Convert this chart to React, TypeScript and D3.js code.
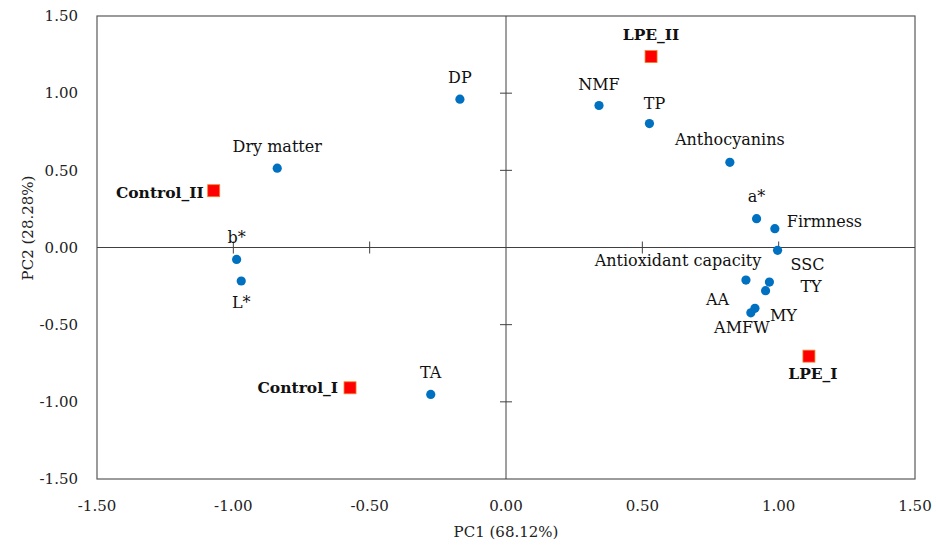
import React from "react";
import * as d3 from "d3";

const varNames = ["DP", "NMF", "TP", "Anthocyanins", "a*", "Firmness", "SSC", "Antioxidant capacity", "TY", "AA", "MY", "AMFW", "Dry matter", "b*", "L*", "TA"];
const varPC1 = [-0.169, 0.341, 0.526, 0.821, 0.919, 0.986, 0.996, 0.88, 0.966, 0.952, 0.913, 0.898, -0.839, -0.988, -0.971, -0.276];
const varPC2 = [0.961, 0.92, 0.803, 0.552, 0.187, 0.122, -0.018, -0.211, -0.224, -0.28, -0.394, -0.423, 0.514, -0.077, -0.217, -0.952];

const sampleNames = ["LPE_II", "Control_II", "Control_I", "LPE_I"];
const samplePC1 = [0.532, -1.072, -0.572, 1.111];
const samplePC2 = [1.237, 0.368, -0.909, -0.704];

const tickValues = [-1.5, -1.0, -0.5, 0, 0.5, 1.0, 1.5];
const tickLabels = ["-1.50", "-1.00", "-0.50", "0.00", "0.50", "1.00", "1.50"];

const xTitle = "PC1 (68.12%)";
const yTitle = "PC2 (28.28%)";

// label placement offsets (px) relative to marker: [dx, dy, anchor]
const varLabelPos: Record<string, [number, number, string]> = {
  "DP": [0, -16, "middle"],
  "NMF": [0, -16, "middle"],
  "TP": [5, -15, "middle"],
  "Anthocyanins": [0, -17, "middle"],
  "a*": [0, -17, "middle"],
  "Firmness": [12, -2, "start"],
  "SSC": [13, 20, "start"],
  "Antioxidant capacity": [-68, -14, "middle"],
  "TY": [31, 10, "start"],
  "AA": [-48, 14, "middle"],
  "MY": [15, 13, "start"],
  "AMFW": [-9, 20, "middle"],
  "Dry matter": [0, -16, "middle"],
  "b*": [0, -16, "middle"],
  "L*": [0, 27, "middle"],
  "TA": [0, -16, "middle"],
};
const sampleLabelPos: Record<string, [number, number, string]> = {
  "LPE_II": [0, -17, "middle"],
  "Control_II": [-10, 7, "end"],
  "Control_I": [-12, 5, "end"],
  "LPE_I": [4, 23, "middle"],
};

const W = 936;
const H = 546;
const FONT = "'DejaVu Serif', serif";

export default function App() {
  const x = d3.scaleLinear().domain([-1.5, 1.5]).range([97, 915]);
  const y = d3.scaleLinear().domain([-1.5, 1.5]).range([479, 16]);
  const x0 = x(0);
  const y0 = y(0);
  const inner = tickValues.filter((v) => Math.abs(v) > 0 && Math.abs(v) < 1.5);

  return (
    <div style={{ position: "absolute", left: 0, top: 0 }}>
      <svg width={W} height={H} style={{ display: "block", background: "#fff" }} fontFamily={FONT}>
        <rect x={x(-1.5)} y={y(1.5)} width={x(1.5) - x(-1.5)} height={y(-1.5) - y(1.5)} fill="none" stroke="#595959" strokeWidth={1.2} />
        <line x1={x(-1.5)} x2={x(1.5)} y1={y0} y2={y0} stroke="#404040" strokeWidth={1} />
        <line x1={x0} x2={x0} y1={y(1.5)} y2={y(-1.5)} stroke="#404040" strokeWidth={1} />
        {inner.map((v) => (
          <line key={"tx" + v} x1={x(v)} x2={x(v)} y1={y0 - 6} y2={y0 + 6} stroke="#404040" strokeWidth={1} />
        ))}
        {inner.map((v) => (
          <line key={"ty" + v} x1={x0 - 6} x2={x0 + 6} y1={y(v)} y2={y(v)} stroke="#404040" strokeWidth={1} />
        ))}
        {tickValues.map((v, i) => (
          <text key={"lx" + v} x={x(v)} y={511} textAnchor="middle" fontSize={15} fill="#222">
            {tickLabels[i]}
          </text>
        ))}
        {tickValues.map((v, i) => (
          <text key={"ly" + v} x={78} y={y(v)} dy="0.35em" textAnchor="end" fontSize={15} fill="#222">
            {tickLabels[i]}
          </text>
        ))}
        <text x={x0} y={537} textAnchor="middle" fontSize={15} fill="#222">{xTitle}</text>
        <text transform={`translate(33,228) rotate(-90)`} textAnchor="middle" fontSize={15} fill="#222">{yTitle}</text>

        {varNames.map((n, i) => (
          <circle key={"c" + n} cx={x(varPC1[i])} cy={y(varPC2[i])} r={4.6} fill="#0070C0" />
        ))}
        {varNames.map((n, i) => {
          const p = varLabelPos[n];
          return (
            <text key={"t" + n} x={x(varPC1[i]) + p[0]} y={y(varPC2[i]) + p[1]} textAnchor={p[2]} fontSize={16} fill="#111">
              {n}
            </text>
          );
        })}
        {sampleNames.map((n, i) => (
          <rect key={"s" + n} x={x(samplePC1[i]) - 6} y={y(samplePC2[i]) - 6} width={12} height={12} fill="#FF0000" stroke="#F4822A" strokeWidth={0.8} />
        ))}
        {sampleNames.map((n, i) => {
          const p = sampleLabelPos[n];
          return (
            <text key={"st" + n} x={x(samplePC1[i]) + p[0]} y={y(samplePC2[i]) + p[1]} textAnchor={p[2]} fontSize={15.5} fontWeight="bold" fill="#111">
              {n}
            </text>
          );
        })}
      </svg>
    </div>
  );
}
